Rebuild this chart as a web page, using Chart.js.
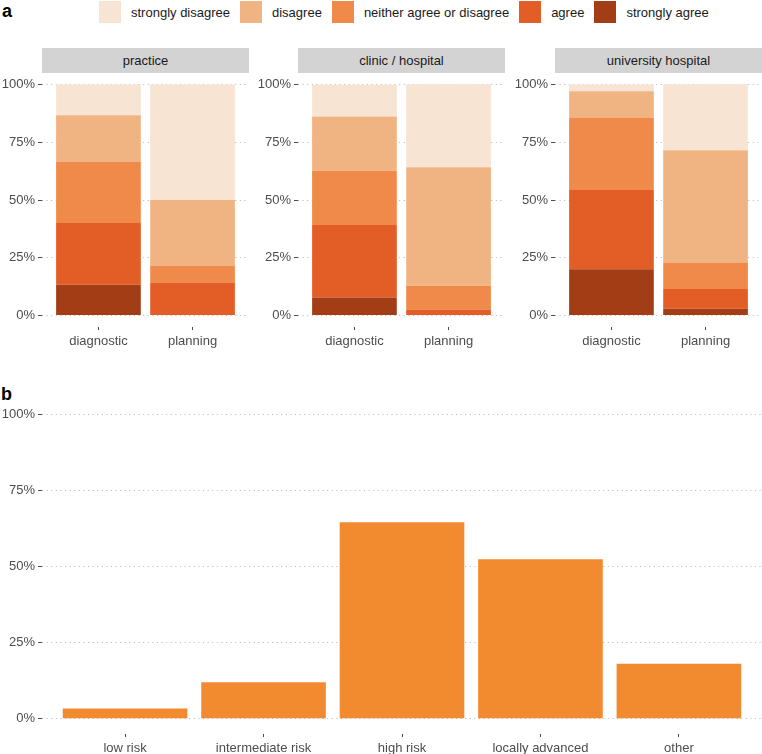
<!DOCTYPE html>
<html>
<head>
<meta charset="utf-8">
<script src="https://cdn.jsdelivr.net/npm/chart.js@4.4.1/dist/chart.umd.min.js"></script>
<style>
  body { margin: 0; width: 762px; height: 754px; position: relative; overflow: hidden; background: #fff;
         font-family: "Liberation Sans", Arial, sans-serif; }
  .tag { position: absolute; font-weight: bold; font-size: 18px; color: #000; }
  .legend { position: absolute; left: 99px; top: 0; height: 24px; display: flex; align-items: center;
            font-size: 13px; color: #1a1a1a; }
  .legend .sw { width: 22px; height: 22px; margin-right: 10px; }
  .legend .lb { margin-right: 10px; }
  .strip { position: absolute; top: 48px; width: 207px; height: 25px; line-height: 25px; background: #d3d3d3;
           color: #1a1a1a; font-size: 13px; text-align: center; }
  canvas { position: absolute; }
</style>
</head>
<body>
<div class="tag" style="left:2px;top:1px">a</div>
<div class="legend" id="legend"></div>
<div class="tag" style="left:1px;top:384px">b</div>

<script>
const facets = ['practice', 'clinic / hospital', 'university hospital'];
const methods = ['diagnostic', 'planning'];
const levels = ['strongly agree', 'agree', 'neither agree or disagree', 'disagree', 'strongly disagree'];
const levelColors = ['#a33d16', '#e35d27', '#ef8a4a', '#f0b382', '#f8e4d3'];

// percent of answers, per facet: [diagnostic, planning]
const stronglyAgree    = [[13.3, 0],    [7.8, 0],     [20.0, 2.9]];
const agree            = [[26.7, 14.3], [31.4, 2.6],  [34.3, 8.6]];
const neither          = [[26.7, 7.1],  [23.5, 10.3], [31.4, 11.4]];
const disagree         = [[20.0, 28.6], [23.5, 51.3], [11.4, 48.6]];
const stronglyDisagree = [[13.3, 50.0], [13.7, 35.9], [2.9, 28.6]];

const riskGroups = ['low risk', 'intermediate risk', 'high risk', 'locally advanced', 'other'];
const riskShare = [3.4, 12.0, 64.5, 52.4, 18.1];

const yTicks = [0, 25, 50, 75, 100];

const byLevel = [stronglyAgree, agree, neither, disagree, stronglyDisagree];

// legend (ggplot order: strongly disagree first)
const legend = document.getElementById('legend');
for (let i = levels.length - 1; i >= 0; i--) {
  const sw = document.createElement('span');
  sw.className = 'sw';
  sw.style.background = levelColors[i];
  const lb = document.createElement('span');
  lb.className = 'lb';
  lb.textContent = levels[i];
  legend.appendChild(sw);
  legend.appendChild(lb);
}

const tickFont = { family: '"Liberation Sans", Arial, sans-serif', size: 13 };

function makeScales(names, yWidth, xHeight) {
  return {
    x: {
      type: 'linear', stacked: true, offset: false,
      min: 0.4, max: names.length + 0.6,
      afterBuildTicks: s => { s.ticks = names.map((n, i) => ({ value: i + 1 })); },
      afterFit: s => { s.height = xHeight; s.paddingLeft = 0; s.paddingRight = 0; },
      ticks: { autoSkip: false, maxRotation: 0, color: '#4d4d4d', font: tickFont, padding: 4,
               callback: v => names[v - 1] },
      grid: { offset: false, drawOnChartArea: false, drawTicks: true, tickLength: 3, tickColor: '#4d4d4d' },
      border: { display: false }
    },
    y: {
      stacked: true, min: -5, max: 105,
      afterBuildTicks: s => { s.ticks = yTicks.map(v => ({ value: v })); },
      afterFit: s => { s.width = yWidth; s.paddingTop = 0; s.paddingBottom = 0; },
      ticks: { color: '#4d4d4d', font: tickFont, padding: 3, callback: v => v + '%' },
      grid: { color: '#b5b5b5', lineWidth: 1, tickLength: 4, tickColor: '#4d4d4d', tickBorderDash: [] },
      border: { display: false, dash: [1, 3.6] }
    }
  };
}

const baseOptions = {
  responsive: false,
  animation: false,
  layout: { padding: 0 },
  plugins: { legend: { display: false }, tooltip: { enabled: false } }
};

// panel a: three facets
const facetLeft = [0, 256, 513];
facets.forEach((name, f) => {
  const strip = document.createElement('div');
  strip.className = 'strip';
  strip.style.left = (facetLeft[f] + 42) + 'px';
  strip.textContent = name;
  document.body.appendChild(strip);

  const cv = document.createElement('canvas');
  cv.width = 249; cv.height = 284;
  cv.style.left = facetLeft[f] + 'px';
  cv.style.top = '73px';
  document.body.appendChild(cv);

  new Chart(cv, {
    type: 'bar',
    data: {
      datasets: levels.map((lv, k) => ({
        label: lv,
        data: methods.map((m, i) => ({ x: i + 1, y: byLevel[k][f][i] })),
        backgroundColor: levelColors[k],
        borderWidth: 0,
        categoryPercentage: 1,
        barPercentage: 0.9
      }))
    },
    options: Object.assign({}, baseOptions, { scales: makeScales(methods, 42, 30) })
  });
});

// panel b
const cvB = document.createElement('canvas');
cvB.width = 762; cvB.height = 355;
cvB.style.left = '0px';
cvB.style.top = '399px';
document.body.appendChild(cvB);

const scalesB = makeScales(riskGroups, 42, 20);
scalesB.x.stacked = false;
scalesB.y.stacked = false;

new Chart(cvB, {
  type: 'bar',
  data: {
    datasets: [{
      label: 'share',
      data: riskGroups.map((g, i) => ({ x: i + 1, y: riskShare[i] })),
      backgroundColor: '#f28a2f',
      borderWidth: 0,
      categoryPercentage: 1,
      barPercentage: 0.9
    }]
  },
  options: Object.assign({}, baseOptions, { scales: scalesB })
});
</script>
</body>
</html>
